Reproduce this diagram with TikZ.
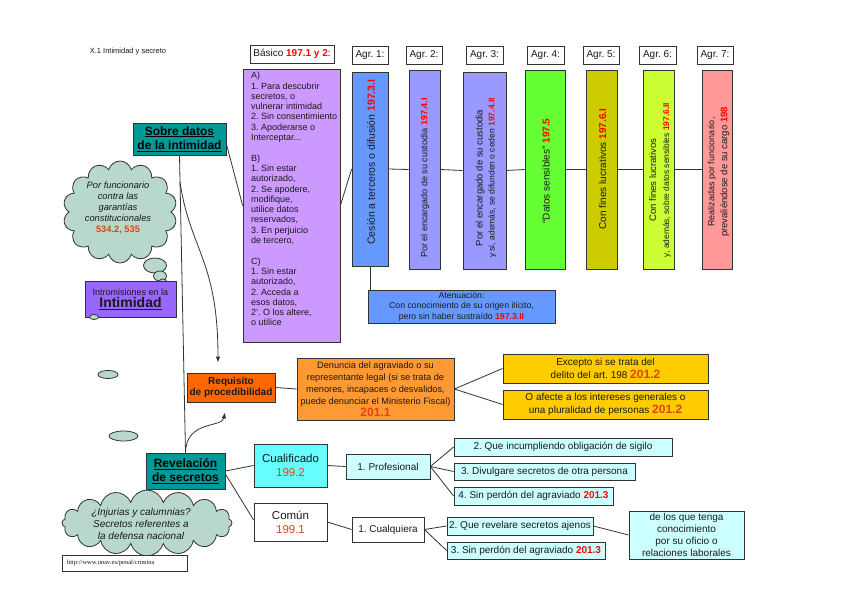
\documentclass[tikz,border=0pt]{standalone}
\usepackage{fontspec}
\setmainfont{Liberation Sans}
\newfontfamily\serifurl{Liberation Serif}
\usetikzlibrary{shapes.symbols,shapes.geometric,arrows.meta,calc}
\frenchspacing

\definecolor{ink}{HTML}{1A1A1A}
\definecolor{edge}{HTML}{333333}
\definecolor{tealA}{HTML}{009999}
\definecolor{purpleA}{HTML}{CC99FF}
\definecolor{blueA}{HTML}{6699FF}
\definecolor{lavA}{HTML}{9999FF}
\definecolor{greenA}{HTML}{66FF33}
\definecolor{oliveA}{HTML}{CCCC00}
\definecolor{limeA}{HTML}{CCFF33}
\definecolor{pinkA}{HTML}{FF9999}
\definecolor{violetA}{HTML}{9966FF}
\definecolor{orangeA}{HTML}{FF6600}
\definecolor{orangeB}{HTML}{FF9933}
\definecolor{goldA}{HTML}{FFCC00}
\definecolor{cyanA}{HTML}{66FFFF}
\definecolor{cyanB}{HTML}{CCFFFF}
\definecolor{cloudA}{HTML}{B8D8CC}
\definecolor{numred}{HTML}{FF0000}
\definecolor{numor}{HTML}{DD4411}

\newcommand{\numR}[1]{\textcolor{numred}{\textbf{#1}}}
\newcommand{\numO}[1]{\textcolor{numor}{\textbf{#1}}}

\begin{document}
\begin{tikzpicture}[x=1pt,y=-1pt,
  box/.style={draw=edge, line width=0.8pt, inner sep=0pt, align=center, text=ink},
  conn/.style={draw=edge, line width=0.8pt},
  arr/.style={conn, -{Latex[length=6pt,width=4.5pt]}},
  lbl/.style={box, fill=white, minimum height=18pt, font=\fontsize{10}{12}\selectfont},
  vtext/.style={rotate=90, align=center, text=ink, inner sep=0pt},
  bubble/.style={ellipse, draw=edge, fill=cloudA, line width=0.8pt, inner sep=0pt},
  thought/.style={cloud, draw=edge, fill=cloudA, line width=0.8pt, cloud ignores aspect, inner sep=0pt},
  pbox/.style={box, fill=cyanB, font=\fontsize{10}{12}\selectfont}
]
\useasboundingbox (0,0) rectangle (848,599);
\fill[white] (0,0) rectangle (848,599);

% title
\node[font=\fontsize{7.5}{9}\selectfont, text=ink] (title) at (128,52) {X.1 Intimidad y secreto};

% header labels
\node[lbl, minimum width=84pt] (lb0) at (292,54) {Básico \numR{197.1 y 2}:};
\node[lbl, minimum width=36pt] (lb1) at (370,55) {Agr.~1:};
\node[lbl, minimum width=36pt] (lb2) at (424,55) {Agr.~2:};
\node[lbl, minimum width=37pt] (lb3) at (484.5,55) {Agr.~3:};
\node[lbl, minimum width=37pt] (lb4) at (545.5,55) {Agr.~4:};
\node[lbl, minimum width=36pt] (lb5) at (601,55) {Agr.~5:};
\node[lbl, minimum width=37pt] (lb6) at (657.5,55) {Agr.~6:};
\node[lbl, minimum width=36pt] (lb7) at (715,55) {Agr.~7:};

% basico box
\node[box, fill=purpleA, minimum width=97pt, minimum height=273pt] (basico) at (291.5,205.5) {};
\node[anchor=north west, align=left, inner sep=0pt, text=ink, font=\fontsize{9}{10.3}\selectfont] (basicotxt) at (251,72)
 {A)\\1. Para descubrir\\secretos, o\\vulnerar intimidad\\2. Sin consentimiento\\3. Apoderarse o\\Interceptar...\\[10.3pt]
  B)\\1. Sin estar\\autorizado,\\2. Se apodere,\\modifique,\\utilice datos\\reservados,\\3. En perjuicio\\de tercero,\\[10.3pt]
  C)\\1. Sin estar\\autorizado,\\2. Acceda a\\esos datos,\\2'. O los altere,\\o utilice};

% vertical boxes
\node[box, fill=blueA, minimum width=36pt, minimum height=194pt] (agr1) at (370,169) {};
\node[box, fill=lavA, minimum width=31pt, minimum height=199pt] (agr2) at (424.5,169.5) {};
\node[box, fill=lavA, minimum width=43pt, minimum height=197pt] (agr3) at (484.5,170.5) {};
\node[box, fill=greenA, minimum width=40pt, minimum height=199pt] (agr4) at (545,169.5) {};
\node[box, fill=oliveA, minimum width=31pt, minimum height=199pt] (agr5) at (601.5,169.5) {};
\node[box, fill=limeA, minimum width=31pt, minimum height=199pt] (agr6) at (658.5,169.5) {};
\node[box, fill=pinkA, minimum width=30pt, minimum height=199pt] (agr7) at (717,169.5) {};

\node[vtext, font=\fontsize{10.5}{12}\selectfont] (t1) at (371,162) {Cesión a terceros o difusión \numR{197.3.I}};
\node[vtext, font=\fontsize{9}{12}\selectfont] (t2) at (425,178) {Por el encargado de su custodia \numR{197.4.I}};
\node[vtext, font=\fontsize{8.5}{12}\selectfont] (t3) at (486,178) {{\fontsize{9.5}{12}\selectfont Por el encargado de su custodia}\\y si, además, se difunden o ceden \numR{197.4.II}};
\node[vtext, font=\fontsize{10}{12}\selectfont] (t4) at (546,171) {“Datos sensibles” \numR{197.5}};
\node[vtext, font=\fontsize{10}{12}\selectfont] (t5) at (602.5,169) {Con fines lucrativos \numR{197.6.I}};
\node[vtext, font=\fontsize{8.4}{13}\selectfont] (t6) at (660,180) {{\fontsize{9.5}{13}\selectfont Con fines lucrativos}\\y, además, sobre datos sensibles \numR{197.6.II}};
\node[vtext, font=\fontsize{9.5}{13}\selectfont] (t7) at (718.5,172) {{\fontsize{9}{13}\selectfont Realizadas por funcionario,}\\prevaliéndose de su cargo \numR{198}};

% atenuacion
\node[box, fill=blueA, minimum width=187pt, minimum height=33pt, font=\fontsize{8.7}{10.5}\selectfont] (aten) at (461.5,306.5)
 {Atenuación:\\Con conocimiento de su origen ilícito,\\pero sin haber sustraído \numR{197.3.II}};

% left side
\node[thought, cloud puffs=14, minimum width=114pt, minimum height=102pt] (cloud1) at (120,212) {};
\node[align=center, text=ink, inner sep=0pt, font=\fontsize{9.3}{11}\selectfont\itshape] (cloud1txt) at (118,208)
 {Por funcionario\\contra las\\garantías\\constitucionales\\\numO{\upshape 534.2, 535}};
\node[bubble, minimum width=23pt, minimum height=15pt] (bub1) at (155,265.5) {};
\node[bubble, minimum width=13pt, minimum height=10pt] (bub2) at (160,276) {};
\node[bubble, minimum width=8pt, minimum height=6pt] (bub3) at (163,282) {};

\node[box, fill=tealA, minimum width=93pt, minimum height=32pt, text=black, font=\fontsize{12}{14.5}\selectfont\bfseries] (sobre) at (179.5,139)
 {\underline{Sobre datos}\\\underline{de la intimidad}};

\node[box, fill=violetA, minimum width=91pt, minimum height=36pt] (intim) at (130.5,299)
 {{\fontsize{9}{10}\selectfont Intromisiones en la}\\[0pt]{\fontsize{14}{15}\selectfont\bfseries\underline{Intimidad}}};

\node[bubble, minimum width=9pt, minimum height=5pt] (bub4) at (94,317) {};
\node[bubble, minimum width=20pt, minimum height=8pt] (bub5) at (108,374.5) {};
\node[bubble, minimum width=29pt, minimum height=10pt] (bub6) at (123.5,436) {};

\node[box, fill=orangeA, minimum width=88pt, minimum height=29pt, font=\fontsize{10}{11.5}\selectfont\bfseries] (req) at (231,387.5)
 {Requisito\\de procedibilidad};

\node[box, fill=orangeB, minimum width=157pt, minimum height=62pt, font=\fontsize{9.2}{12}\selectfont] (denuncia) at (375.5,389)
 {Denuncia del agraviado o su\\representante legal (si se trata de\\menores, incapaces o desvalidos,\\puede denunciar el Ministerio Fiscal)\\{\fontsize{12}{13}\selectfont\numO{201.1}}};

\node[box, fill=goldA, minimum width=205pt, minimum height=29pt, font=\fontsize{10}{13}\selectfont] (excepto) at (605.5,368.5)
 {Excepto si se trata del\\delito del art. 198 {\fontsize{12}{13}\selectfont\numO{201.2}}};
\node[box, fill=goldA, minimum width=205pt, minimum height=29pt, font=\fontsize{10}{13}\selectfont] (oafecte) at (605.5,404.5)
 {O afecte a los intereses generales o\\una pluralidad de personas {\fontsize{12}{13}\selectfont\numO{201.2}}};

\node[box, fill=tealA, minimum width=79pt, minimum height=36pt, text=black, font=\fontsize{12}{14}\selectfont\bfseries] (revel) at (185.5,471)
 {\underline{Revelación}\\\underline{de secretos}};

\node[thought, cloud puffs=16, minimum width=170pt, minimum height=66pt] (cloud2) at (147,523) {};
\node[align=center, text=ink, inner sep=0pt, font=\fontsize{10}{12}\selectfont\itshape] (cloud2txt) at (141,524)
 {¿Injurias y calumnias?\\Secretos referentes a\\la defensa nacional};

\node[box, fill=white, minimum width=125pt, minimum height=16pt, text width=115pt, align=left, font=\serifurl\fontsize{6.5}{8}\selectfont] (url) at (124.5,563)
 {http://www.unav.es/penal/crimina};

\node[box, fill=cyanA, minimum width=73pt, minimum height=43pt, font=\fontsize{11.5}{14}\selectfont] (cualif) at (290.5,465.5)
 {Cualificado\\\textcolor{numor}{199.2}};
\node[box, fill=white, minimum width=73pt, minimum height=38pt, font=\fontsize{11.5}{14}\selectfont] (comun) at (290.5,522)
 {Común\\\textcolor{numor}{199.1}};

\node[pbox, minimum width=84pt, minimum height=25pt] (prof) at (388,466.5) {1. Profesional};
\node[box, fill=white, minimum width=72pt, minimum height=25pt, font=\fontsize{10}{12}\selectfont] (cualq) at (388,529.5) {1. Cualquiera};

\node[pbox, minimum width=218pt, minimum height=18pt] (p2) at (563,447) {2. Que incumpliendo obligación de sigilo};
\node[pbox, minimum width=181pt, minimum height=17pt] (p3) at (544.5,471.5) {3. Divulgare secretos de otra persona};
\node[pbox, minimum width=159pt, minimum height=18pt] (p4) at (533.5,496) {4. Sin perdón del agraviado \numR{201.3}};
\node[pbox, minimum width=146pt, minimum height=18pt] (c2) at (520,526) {2. Que revelare secretos ajenos};
\node[pbox, minimum width=158pt, minimum height=17pt] (c3) at (526,550.5) {3. Sin perdón del agraviado \numR{201.3}};
\node[pbox, minimum width=115pt, minimum height=48pt] (delos) at (686.5,535)
 {de los que tenga\\conocimiento\\por su oficio o\\relaciones laborales};

% connectors
\draw[conn] (sobre.south) -- (revel.north);
\coordinate (br) at ($(sobre.south)!0.09!(revel.north)$);
\draw[arr] (br) .. controls (190,250) and (218,260) .. ([xshift=-13pt,yshift=10pt]req.north);
\draw[arr] (revel.north) .. controls (186,420) and (222,428) .. ([xshift=-6pt,yshift=-10pt]req.south);
\draw[conn] ([yshift=-5pt]sobre.east) -- (basico.west);
\draw[conn] (basico.east) -- (agr1.west);
\draw[conn] (agr1.east) -- (agr2.west);
\draw[conn] (agr2.east) -- (agr3.west);
\draw[conn] (agr3.east) -- (agr4.west);
\draw[conn] (agr4.east) -- (agr5.west);
\draw[conn] (agr5.east) -- (agr6.west);
\draw[conn] (agr6.east) -- (agr7.west);
\draw[conn] (agr1.south) -- (agr1.south |- aten.north);
\draw[conn] (req.east) -- (denuncia.west);
\draw[conn] (denuncia.east) -- (excepto.west);
\draw[conn] (denuncia.east) -- (oafecte.west);
\draw[conn] (revel.east) -- (cualif.west);
\draw[conn] ([yshift=-3pt]revel.east) -- ([yshift=2pt]comun.west);
\draw[conn] (cualif.east) -- (prof.west);
\draw[conn] (comun.east) -- (cualq.west);
\draw[conn] (prof.east) -- (p2.west);
\draw[conn] (prof.east) -- (p3.west);
\draw[conn] (prof.east) -- (p4.west);
\draw[conn] (cualq.east) -- (c2.west);
\draw[conn] (cualq.east) -- (c3.west);
\draw[conn] (c2.east) -- (delos.west);
\end{tikzpicture}
\end{document}
